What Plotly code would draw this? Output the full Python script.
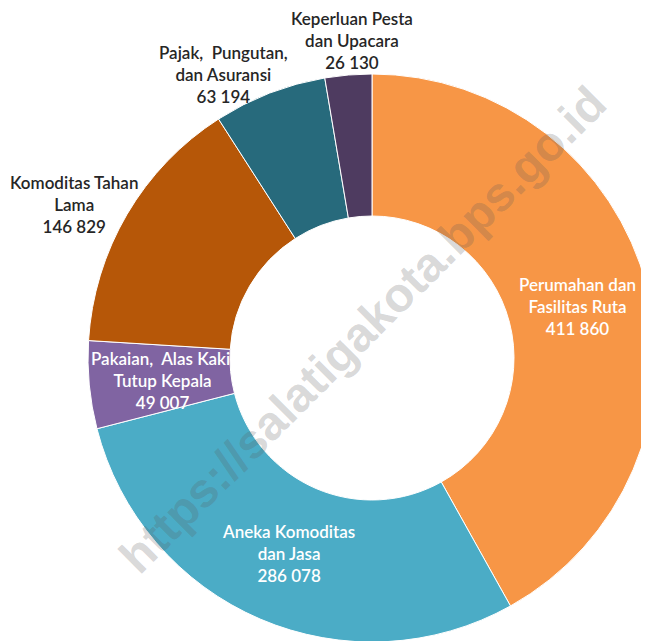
import plotly.graph_objects as go

labels = [
    "Perumahan dan<br>Fasilitas Ruta",
    "Aneka Komoditas<br>dan Jasa",
    "Pakaian,  Alas Kaki,<br>Tutup Kepala",
    "Komoditas Tahan<br>Lama",
    "Pajak,  Pungutan,<br>dan Asuransi",
    "Keperluan Pesta<br>dan Upacara",
]
values = [411860, 286078, 49007, 146829, 63194, 26130]
colors = ["#F79646", "#4BACC6", "#8064A2", "#B65708", "#276A7C", "#4E3B60"]
watermark = "https://salatigakota.bps.go.id"

# label block centres in page pixels, and text colour (inside = white)
label_pos = [(577, 306), (288, 553), (162, 380), (74, 204), (223, 74), (352, 41)]
label_color = ["white", "white", "white", "#262626", "#262626", "#262626"]

W, H = 649, 641
OFF = 8  # page body margin


def px(x, y):
    return (x - OFF) / W, 1 - (y - OFF) / H


fig = go.Figure(
    go.Pie(
        labels=labels,
        values=values,
        sort=False,
        direction="clockwise",
        rotation=0,
        hole=0.5,
        marker=dict(colors=colors, line=dict(color="white", width=1)),
        textinfo="none",
        hoverinfo="label+value",
        domain=dict(x=[80 / W, 648 / W], y=[1 - 634 / H, 1 - 66 / H]),
        showlegend=False,
    )
)

wx, wy = px(363, 330)
annotations = [
    dict(
        text=watermark,
        x=wx, y=wy, xref="paper", yref="paper",
        textangle=-45, showarrow=False,
        font=dict(family="Liberation Sans, Arial", size=48, color="rgba(90,90,90,0.24)", weight="bold"),
    )
]
for lab, v, (lx, ly), c in zip(labels, values, label_pos, label_color):
    ax, ay = px(lx, ly)
    num = f"{v:,}".replace(",", " ")
    annotations.append(
        dict(
            text=f"{lab}<br>{num}",
            x=ax, y=ay, xref="paper", yref="paper",
            xanchor="center", yanchor="middle", align="center",
            showarrow=False, borderpad=0,
            font=dict(family="Lato", size=17, color=c, weight=600),
        )
    )

fig.update_layout(
    width=W,
    height=H,
    margin=dict(l=0, r=0, t=0, b=0),
    paper_bgcolor="white",
    annotations=annotations,
)

fig.write_html("out.html")
